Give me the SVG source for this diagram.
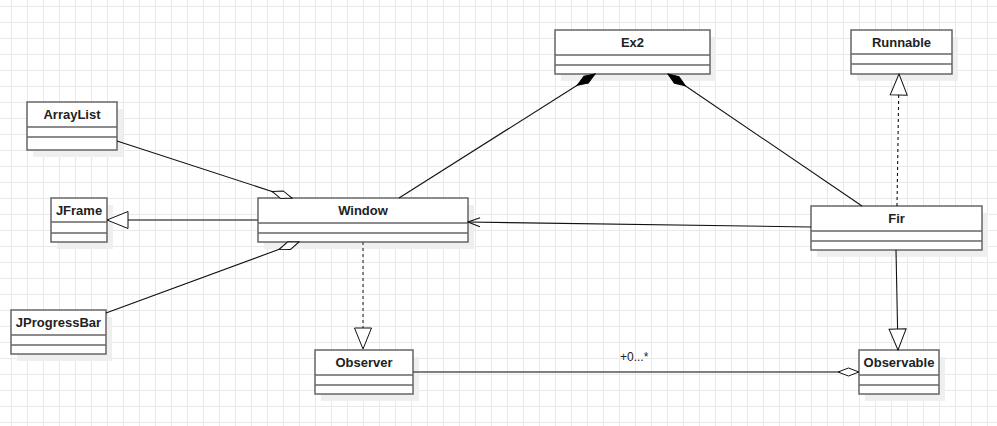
<svg xmlns="http://www.w3.org/2000/svg" width="997" height="426" viewBox="0 0 997 426">
<style>
.box{fill:#fff;stroke:#666;stroke-width:1.5}
.shadow{fill:#efefef;stroke:none}
.div{stroke:#666;stroke-width:1.5}
.name{font-family:"Liberation Sans",Arial,sans-serif;font-size:13px;font-weight:bold;fill:#222;text-anchor:middle}
.lbl{font-family:"Liberation Sans",Arial,sans-serif;font-size:12px;fill:#222}
.edge{fill:none;stroke:#111;stroke-width:1.1}
.gray{stroke:#555;stroke-width:1.4}
.dash{stroke-dasharray:3 3}
</style>
<defs>
<pattern id="grid" x="11" y="6" width="16" height="16" patternUnits="userSpaceOnUse">
<path d="M0 0.5H16M0.5 0V16" stroke="#e9e9e9" stroke-width="1" fill="none"/>
</pattern>
<marker id="odiamond" viewBox="0 -5 23 10" refX="22" refY="0" markerWidth="23" markerHeight="10" markerUnits="userSpaceOnUse" orient="auto">
<path d="M1,0 L11.5,-4 L22,0 L11.5,4 Z" fill="#fff" stroke="#111" stroke-width="1"/>
</marker>
<marker id="fdiamond" viewBox="0 -5 23 10" refX="22" refY="0" markerWidth="23" markerHeight="10" markerUnits="userSpaceOnUse" orient="auto">
<path d="M1,0 L11.5,-4 L22,0 L11.5,4 Z" fill="#000" stroke="#000" stroke-width="1"/>
</marker>
<marker id="tri" viewBox="0 -10 23 20" refX="22" refY="0" markerWidth="23" markerHeight="20" markerUnits="userSpaceOnUse" orient="auto">
<path d="M1,-8.5 L22,0 L1,8.5 Z" fill="#fff" stroke="#111" stroke-width="1"/>
</marker>
<marker id="open" viewBox="0 -6 14 12" refX="13" refY="0" markerWidth="14" markerHeight="12" markerUnits="userSpaceOnUse" orient="auto">
<path d="M1,-4.5 L13,0 L1,4.5" fill="none" stroke="#111" stroke-width="1"/>
</marker>
</defs>
<rect width="997" height="426" fill="#fff"/>
<rect width="997" height="426" fill="url(#grid)"/>

<g id="ArrayList">
<rect class="shadow" x="33" y="109" width="90" height="48"/>
<rect class="box" x="27" y="102" width="90" height="48"/>
<line class="div" x1="27" y1="127" x2="117" y2="127"/>
<line class="div" x1="27" y1="137" x2="117" y2="137"/>
<text class="name" x="72" y="119">ArrayList</text>
</g>

<g id="JFrame">
<rect class="shadow" x="57" y="205" width="56" height="44"/>
<rect class="box" x="51" y="198" width="56" height="44"/>
<line class="div" x1="51" y1="222" x2="107" y2="222"/>
<line class="div" x1="51" y1="233" x2="107" y2="233"/>
<text class="name" x="79" y="215">JFrame</text>
</g>

<g id="Window">
<rect class="shadow" x="264" y="205" width="210" height="44"/>
<rect class="box" x="258" y="198" width="210" height="44"/>
<line class="div" x1="258" y1="223" x2="468" y2="223"/>
<line class="div" x1="258" y1="233" x2="468" y2="233"/>
<text class="name" x="363" y="215">Window</text>
</g>

<g id="JProgressBar">
<rect class="shadow" x="17" y="317" width="95" height="44"/>
<rect class="box" x="11" y="310" width="95" height="44"/>
<line class="div" x1="11" y1="335" x2="106" y2="335"/>
<line class="div" x1="11" y1="345" x2="106" y2="345"/>
<text class="name" x="58.5" y="327">JProgressBar</text>
</g>

<g id="Observer">
<rect class="shadow" x="321" y="357" width="98" height="44"/>
<rect class="box" x="315" y="350" width="98" height="44"/>
<line class="div" x1="315" y1="375" x2="413" y2="375"/>
<line class="div" x1="315" y1="385" x2="413" y2="385"/>
<text class="name" x="364" y="367">Observer</text>
</g>

<g id="Ex2">
<rect class="shadow" x="561" y="37" width="155" height="44"/>
<rect class="box" x="555" y="30" width="155" height="44"/>
<line class="div" x1="555" y1="55" x2="710" y2="55"/>
<line class="div" x1="555" y1="65" x2="710" y2="65"/>
<text class="name" x="632.5" y="47">Ex2</text>
</g>

<g id="Runnable">
<rect class="shadow" x="857" y="37" width="101" height="44"/>
<rect class="box" x="851" y="30" width="101" height="44"/>
<line class="div" x1="851" y1="54" x2="952" y2="54"/>
<line class="div" x1="851" y1="64" x2="952" y2="64"/>
<text class="name" x="901.5" y="47">Runnable</text>
</g>

<g id="Fir">
<rect class="shadow" x="817" y="213" width="171" height="44"/>
<rect class="box" x="811" y="206" width="171" height="44"/>
<line class="div" x1="811" y1="231" x2="982" y2="231"/>
<line class="div" x1="811" y1="241" x2="982" y2="241"/>
<text class="name" x="896.5" y="223">Fir</text>
</g>

<g id="Observable">
<rect class="shadow" x="865" y="357" width="80" height="44"/>
<rect class="box" x="859" y="350" width="80" height="44"/>
<line class="div" x1="859" y1="375" x2="939" y2="375"/>
<line class="div" x1="859" y1="385" x2="939" y2="385"/>
<text class="name" x="899" y="367">Observable</text>
</g>

<g id="connectors">
<line class="edge" x1="117" y1="141" x2="292" y2="198" marker-end="url(#odiamond)"/>
<line class="edge" x1="106" y1="313" x2="299" y2="242" marker-end="url(#odiamond)"/>
<line class="edge gray" x1="258" y1="220" x2="107" y2="220" marker-end="url(#tri)"/>
<line class="edge gray dash" x1="363" y1="242" x2="363" y2="349" marker-end="url(#tri)"/>
<line class="edge dash" x1="897" y1="206" x2="899" y2="74" marker-end="url(#tri)"/>
<line class="edge" x1="896" y1="250" x2="898" y2="350" marker-end="url(#tri)"/>
<line class="edge" x1="811" y1="227" x2="468" y2="222" marker-end="url(#open)"/>
<line class="edge" x1="399" y1="198" x2="595" y2="74" marker-end="url(#fdiamond)"/>
<line class="edge" x1="862" y1="206" x2="668" y2="74" marker-end="url(#fdiamond)"/>
<line class="edge gray" x1="413" y1="372" x2="859" y2="372" marker-end="url(#odiamond)"/>
<text class="lbl" x="620" y="361">+0...*</text>
</g>
</svg>
